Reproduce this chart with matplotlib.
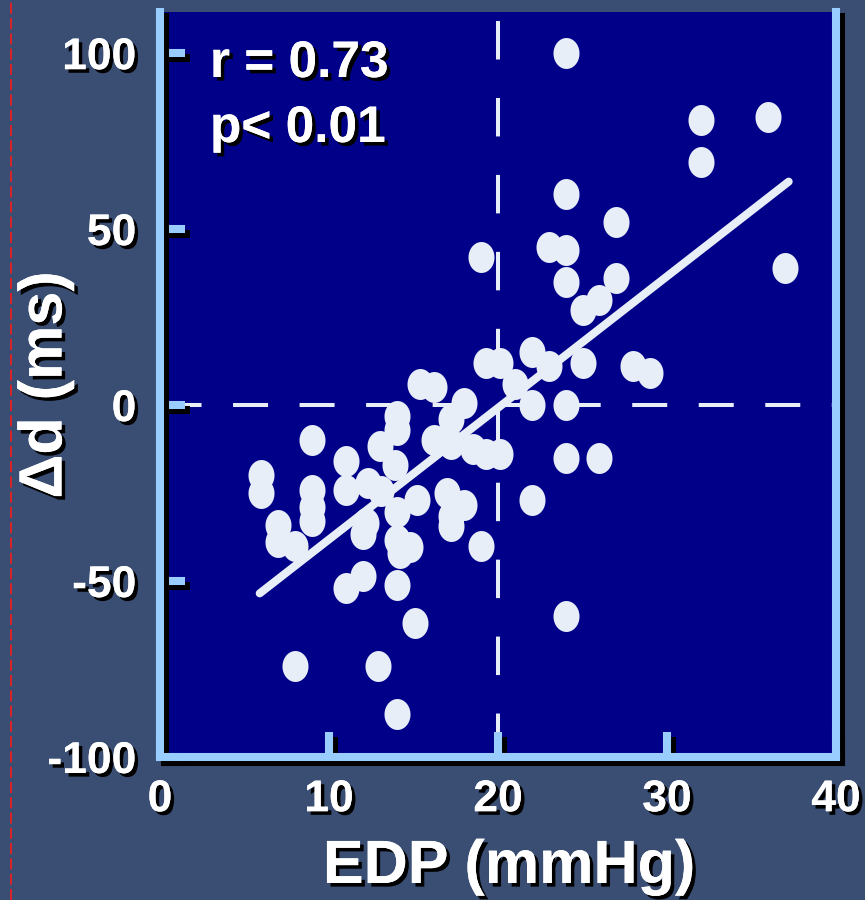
import numpy as np
import matplotlib
matplotlib.use("Agg")
import matplotlib.pyplot as plt
import matplotlib.patheffects as pe
from matplotlib.path import Path
from matplotlib.lines import Line2D

plt.rcParams['font.family'] = ['Liberation Sans', 'DejaVu Sans']
plt.rcParams['font.weight'] = 'bold'
plt.rcParams['lines.scale_dashes'] = False

# ---- data ----
edp = [24, 32, 36, 32, 24, 27, 19, 23, 24, 24, 27, 37, 25, 26,
       19.3, 20.1, 22, 23, 25, 28, 29, 21, 22, 24, 18,
       15.4, 16.2, 14, 14, 17.2, 16.2, 17.2, 18.5, 19.3, 20.1, 24, 26, 22, 19, 24,
       13, 11, 13.9, 11, 12.3, 13.1, 15.2, 14, 17.2, 18, 17, 12.2, 14.8, 17.2,
       12, 14, 14.2, 12, 11, 14, 15.1, 12.9, 14,
       9, 6, 6, 9, 9, 9, 7, 7, 8, 8]
delta_d = [100, 81, 82, 69, 60, 52, 42, 45, 44, 35, 36, 39, 27, 30,
           12, 12, 15, 11, 12, 11, 9, 6, 0, 0, 0.5,
           6, 5, -3, -7, -4, -10, -11, -12.5, -14, -14, -15, -15, -27, -40, -60,
           -11.5, -16, -17, -24, -22, -24.5, -27, -30.5, -31.5, -28.5, -25, -33.5, -40.2, -34.5,
           -36.5, -38.3, -42, -48.7, -52, -51, -62, -74, -87.7,
           -10, -20, -25, -24, -29, -33, -34, -39, -40, -74]
fit_x = [5.9, 37.2]
fit_y = [-53.5, 63.5]
xticks = [0, 10, 20, 30, 40]
yticks = [-100, -50, 0, 50, 100]
stat_lines = ["r = 0.73", "p< 0.01"]
xlabel = "EDP (mmHg)"
ylabel = "\u0394d (ms)"

# ---- styling ----
BG = '#3a4e74'
PLOT_BG = '#000088'
AXIS_BLUE = '#99ccff'
DOT = '#e8eef8'

W, H = 865, 900
fig = plt.figure(figsize=(W / 100, H / 100), dpi=100, facecolor=BG)
ax = fig.add_axes([160 / W, 1 - 757 / H, (836 - 160) / W, (757 - 12) / H])
ax.set_facecolor(PLOT_BG)
ax.set_xlim(0, 40)
ax.set_ylim(-100, 111.7)

text_shadow = [pe.withSimplePatchShadow(offset=(2.6, -2.6), shadow_rgbFace='black', alpha=1), pe.Normal()]
line_shadow = [pe.SimpleLineShadow(offset=(3.5, -3.5), shadow_color='black', alpha=1), pe.Normal()]

# reference dashed lines
ax.axhline(0, color=DOT, lw=2.9, linestyle=(43.2, (25.2, 22.7)), zorder=1)
ax.axvline(20, color=DOT, lw=2.9, linestyle=(51.8, (27.7, 27.7)), zorder=1)

# ellipse marker
t = np.linspace(0, 2 * np.pi, 60)
ell = Path(np.column_stack([0.84 * np.cos(t), np.sin(t)]), closed=True)
ax.scatter(edp, delta_d, marker=ell, s=22.3 ** 2, color=DOT, linewidths=0, zorder=3)
ax.plot(fit_x, fit_y, color=DOT, lw=5.8, solid_capstyle='round', zorder=3)

# spines
ax.spines['top'].set_visible(False)
for s in ['left', 'right', 'bottom']:
    ax.spines[s].set_color(AXIS_BLUE)
    ax.spines[s].set_linewidth(5.8)
    ax.spines[s].set_path_effects(line_shadow)
    ax.spines[s].set_zorder(4)

ax.set_xticks(xticks)
ax.set_yticks(yticks)
ax.set_xticklabels([str(v) for v in xticks])
ax.set_yticklabels([str(v) for v in yticks])
ax.tick_params(axis='both', direction='in', length=18, width=5.8, color=AXIS_BLUE,
               labelsize=32, labelcolor='white')
ax.tick_params(axis='y', pad=17)
ax.tick_params(axis='x', pad=16)
for ln in list(ax.xaxis.get_ticklines()) + list(ax.yaxis.get_ticklines()):
    ln.set_path_effects(line_shadow)
for lbl in ax.get_xticklabels() + ax.get_yticklabels():
    lbl.set_path_effects(text_shadow)
    lbl.set_fontweight('bold')

# stats text
fig.text(210 / W, 1 - 77 / H, stat_lines[0], color='white', fontsize=37, fontweight='bold',
         ha='left', va='baseline', path_effects=text_shadow)
fig.text(210 / W, 1 - 142 / H, stat_lines[1], color='white', fontsize=37, fontweight='bold',
         ha='left', va='baseline', path_effects=text_shadow)

# axis labels
fig.text(509 / W, 1 - 883 / H, xlabel, color='white', fontsize=44, fontweight='bold',
         ha='center', va='baseline', path_effects=text_shadow)
fig.text(46 / W, 1 - 385 / H, ylabel, color='white', fontsize=44, fontweight='bold',
         ha='center', va='center', rotation=90, path_effects=text_shadow)

# slide guide line
fig.add_artist(Line2D([11 / W, 11 / W], [0, 1], transform=fig.transFigure,
                      color='#e82020', lw=1.3, linestyle=(0, (8, 3))))

fig.savefig('out.png', dpi=100, facecolor=BG)
